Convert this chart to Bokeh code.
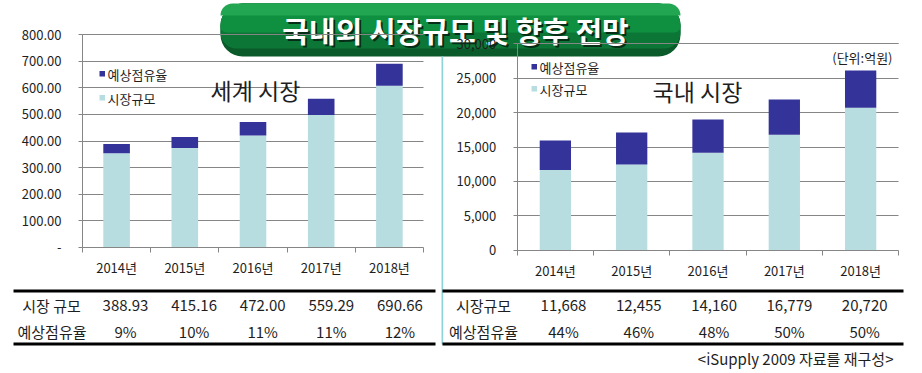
from bokeh.plotting import figure
from bokeh.models import (Range1d, FixedTicker, NumeralTickFormatter, Label, BoxAnnotation,
                          Grid, LinearAxis)
from bokeh.embed import file_html
from bokeh.resources import INLINE

FONT = "Noto Sans CJK KR"

# ---------------- data ----------------
years = ["2014년", "2015년", "2016년", "2017년", "2018년"]

world_ticks = [0, 100, 200, 300, 400, 500, 600, 700, 800]
world_tick_labels = ["-", "100.00", "200.00", "300.00", "400.00", "500.00", "600.00", "700.00", "800.00"]
world_market = [388.93, 415.16, 472.00, 559.29, 690.66]      # bar total / table row 1
world_share = [9, 10, 11, 11, 12]                            # table row 2 (%)
world_bar_base = [354, 374, 421, 498, 608]                   # light segment top (시장규모)

dom_ticks = [0, 5000, 10000, 15000, 20000, 25000, 30000]
dom_market = [11668, 12455, 14160, 16779, 20720]             # light segment / table row 1
dom_share = [44, 46, 48, 50, 50]                             # table row 2 (%)
dom_bar_total = [15960, 17120, 19010, 21920, 26130]          # bar total

TITLE = "국내외 시장규모 및 향후 전망"
LEGEND = ["예상점유율", "시장규모"]
ROW_LABELS_L = ["시장 규모", "예상점유율"]
ROW_LABELS_R = ["시장규모", "예상점유율"]
UNIT = "(단위:억원)"
SOURCE = "<iSupply 2009 자료를 재구성>"

# ---------------- style ----------------
W, H = 922, 373
DARK = "#333399"
LIGHT = "#b7dde1"
GRID = "#868686"
TXT = "#1e1e1e"

n = len(years)
xs = [i + 0.5 for i in range(n)]


def mapper(fx0, fx1, fy0, fy1, ymax):
    """page pixel -> chart data coordinate for a chart whose plot box is (fx0..fx1, fy0..fy1)."""
    def X(px):
        return (px - fx0) / (fx1 - fx0) * n
    def Y(py):
        return (fy1 - py) / (fy1 - fy0) * ymax
    return X, Y


LX, LY = mapper(82, 423, 34.3, 246.7, world_ticks[-1])
RX, RY = mapper(516.7, 898.3, 43.3, 249.8, dom_ticks[-1])

# one canvas; default ranges are page pixels (y downwards), charts use their own ranges
p = figure(width=W, height=H, x_range=Range1d(0, W), y_range=Range1d(H, 0),
           output_backend="svg", toolbar_location=None, title=None,
           x_axis_location=None, y_axis_location=None,
           min_border=0, min_border_left=0, min_border_right=0,
           min_border_top=0, min_border_bottom=0,
           background_fill_color="white", border_fill_color="white",
           outline_line_color=None)
p.grid.visible = False
p.extra_x_ranges = {"lx": Range1d(LX(0), LX(W)), "rx": Range1d(RX(0), RX(W))}
p.extra_y_ranges = {"ly": Range1d(LY(H), LY(0)), "ry": Range1d(RY(H), RY(0))}


def box(x0, x1, y0, y1, color, radius=0):
    p.add_layout(BoxAnnotation(left=x0, right=x1, top=y0, bottom=y1,
                               fill_color=color, fill_alpha=1, line_alpha=0,
                               border_radius=radius))


def label(px, py, text, size, color=TXT, align="center", style="normal"):
    p.add_layout(Label(x=px, y=py, text=text, text_font=FONT,
                       text_font_size=f"{size}px", text_color=color, text_align=align,
                       text_baseline="middle", text_font_style=style))


def chart(xr, yr, ticks, base, top, bar_w, formatter=None, overrides=None):
    ymax = ticks[-1]
    kw = dict(x_range_name=xr, y_range_name=yr)
    p.add_layout(Grid(dimension=1, ticker=FixedTicker(ticks=ticks[1:]), cross_bounds=(0, n),
                      grid_line_color=GRID, **kw))
    p.add_layout(Grid(dimension=1, ticker=FixedTicker(ticks=[ymax]), cross_bounds=(0, n),
                      grid_line_color=GRID, level="overlay", **kw))
    p.vbar(x=xs, bottom=0, top=base, width=bar_w, fill_color=LIGHT, line_color=None, **kw)
    p.vbar(x=xs, bottom=base, top=top, width=bar_w, fill_color=DARK, line_color=None, **kw)

    xa = LinearAxis(fixed_location=0, bounds=(0, n),
                    ticker=FixedTicker(ticks=xs, minor_ticks=list(range(n + 1))),
                    major_label_overrides={x: y for x, y in zip(xs, years)},
                    major_tick_out=0, major_tick_in=0,
                    minor_tick_out=5, minor_tick_in=0,
                    minor_tick_line_color=GRID, axis_line_color=GRID,
                    major_label_text_font=FONT, major_label_text_font_size="13px",
                    major_label_text_color=TXT, major_label_standoff=6, **kw)
    p.add_layout(xa, "below")
    ya = LinearAxis(fixed_location=0, bounds=(0, ymax),
                    ticker=FixedTicker(ticks=ticks),
                    major_tick_out=4, major_tick_in=0,
                    minor_tick_out=0, minor_tick_in=0,
                    axis_line_color=GRID, major_tick_line_color=GRID,
                    major_label_text_font=FONT, major_label_text_font_size="13px",
                    major_label_text_color=TXT, major_label_standoff=17,
                    level="overlay", **kw)
    if formatter is not None:
        ya.formatter = formatter
    if overrides is not None:
        ya.major_label_overrides = overrides
    p.add_layout(ya, "left")


# ---------------- title banner ----------------
for t, b, c, r in [(3, 56, "#0b5a29", (22, 22, 22, 22)),
                   (3, 48, "#0c7636", (22, 22, 16, 16)),
                   (3, 32, "#0f8f40", (22, 22, 6, 6)),
                   (3, 15, "#22a651", (22, 22, 0, 0))]:
    box(220, 680, t, b, c, r)
label(457, 31, TITLE, 29, color="#062e16", style="bold")
label(455, 29, TITLE, 29, color="white", style="bold")

# ---------------- left chart (세계 시장) ----------------
chart("lx", "ly", world_ticks, world_bar_base, world_market, 0.39,
      overrides=dict(zip(world_ticks, world_tick_labels)))
box(99, 104.5, 70.5, 76, DARK)
box(99, 104.5, 94.5, 100, LIGHT)
label(107, 74, LEGEND[0], 13, align="left")
label(107, 98, LEGEND[1], 13, align="left")
label(255, 89, "세계 시장", 23)

box(13, 435, 289, 292, "black")
box(13, 435, 342, 345, "black")
label(51, 305, ROW_LABELS_L[0], 15)
label(51.5, 331, ROW_LABELS_L[1], 15)
for i in range(n):
    cx = 125 + 68.6 * i
    label(cx, 305, f"{world_market[i]:.2f}", 15)
    label(cx, 331, f"{world_share[i]}%", 15)

# ---------------- right chart (국내 시장) ----------------
chart("rx", "ry", dom_ticks, dom_market, dom_bar_total, 0.41,
      formatter=NumeralTickFormatter(format="0,0"))
box(531, 536.5, 63.5, 69, DARK)
box(531, 536.5, 85.5, 91, LIGHT)
label(539, 67, LEGEND[0], 13, align="left")
label(539, 89, LEGEND[1], 13, align="left")
label(697, 90, "국내 시장", 23)
label(892, 57, UNIT, 13, align="right")

box(441, 442.7, 56, 344, "#8fd4da")
box(442, 903, 289, 292, "black")
box(442, 903, 342, 345, "black")
label(483, 305, ROW_LABELS_R[0], 15)
label(483, 331, ROW_LABELS_R[1], 15)
for i in range(n):
    cx = 563 + 75.3 * i
    label(cx, 305, f"{dom_market[i]:,}", 15)
    label(cx, 331, f"{dom_share[i]}%", 15)
label(893, 358, SOURCE, 15, align="right")

open("out.html", "w").write(file_html(p, INLINE))
